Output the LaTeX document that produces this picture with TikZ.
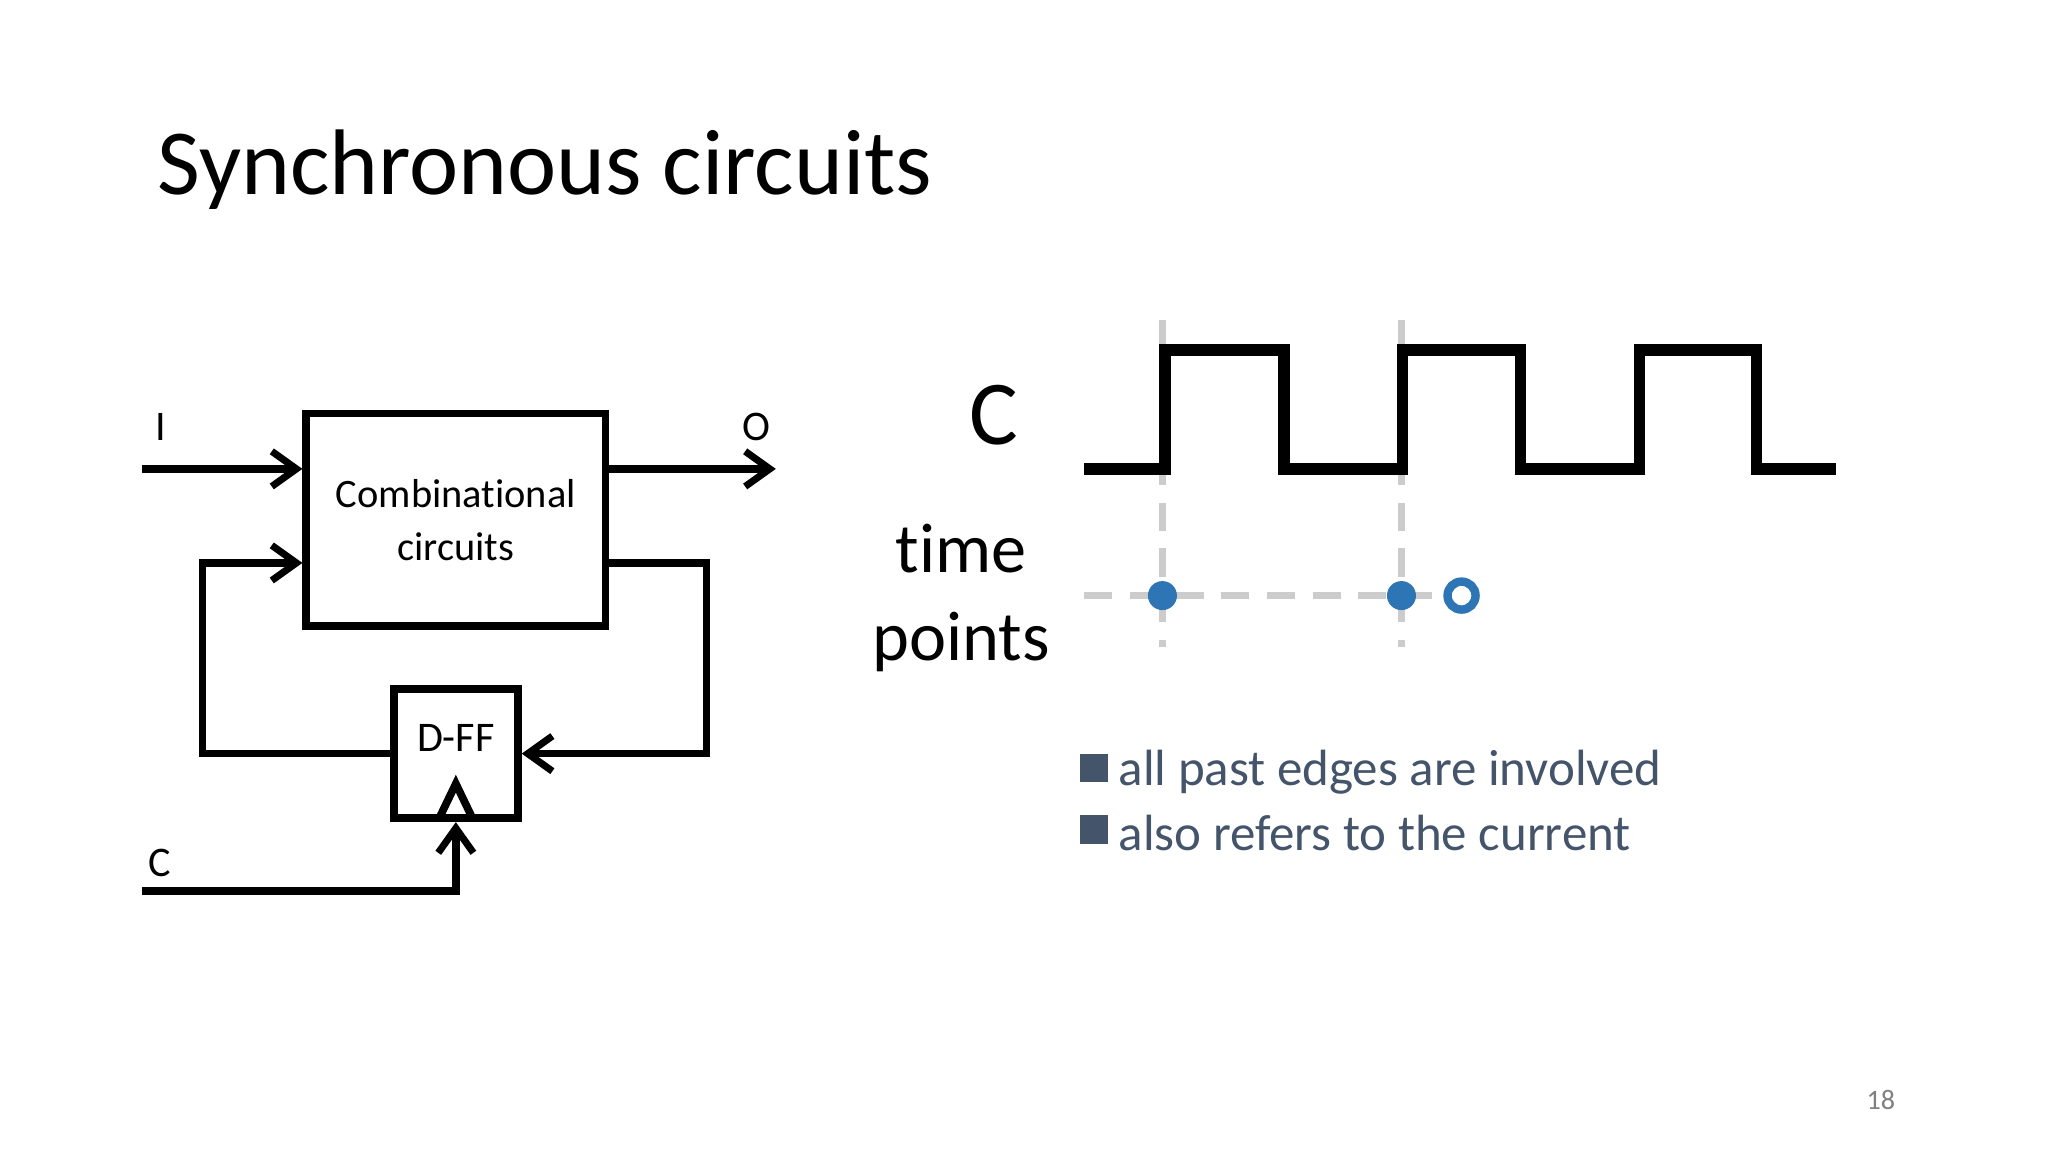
\documentclass[tikz,border=0pt]{standalone}
\usepackage{fontspec}
\setmainfont{Carlito}[Ligatures={NoCommon}]
\usetikzlibrary{arrows.meta}
\definecolor{bul}{HTML}{44546A}
\definecolor{dot}{HTML}{2E75B6}
\begin{document}
\begin{tikzpicture}[x=0.01306cm,y=-0.01306cm,
  wire/.style={line width=2.2pt},
  arr/.style={wire,-{Straight Barb[length=7pt,width=10pt,line width=2pt]}},
  clk/.style={line width=3.2pt,line join=miter},
  guide/.style={line width=2.2pt,draw=gray!40,dash pattern=on 8pt off 5pt},
  lbl/.style={font=\fontsize{12}{14}\selectfont}]
\useasboundingbox (0,0) rectangle (1568,882);
\fill[white] (0,0) rectangle (1568,882);
\node[anchor=west,inner sep=0pt,font=\fontsize{26.5}{30}\selectfont] (title) at (120,130) {Synchronous circuits};
% left circuit
\node[draw,wire,minimum width=229*0.01306cm,minimum height=163*0.01306cm,align=center,font=\fontsize{11.5}{15}\selectfont] (comb) at (349,398) {Combinational\\circuits};
\node[draw,wire,minimum width=95*0.01306cm,minimum height=99*0.01306cm] (dff) at (349,577) {};
\node[font=\fontsize{12}{14}\selectfont] (dffl) at (349,565) {D-FF};
\coordinate (tri1) at (336,627); \coordinate (tri2) at (362,627); \coordinate (tri3) at (349,600);
\draw[wire] (tri1) -- (tri3) -- (tri2);
\coordinate (iin) at (109,359);
\coordinate (oout) at (594,359);
\draw[arr] (iin) -- (comb.west |- iin);
\draw[arr] (comb.east |- oout) -- (oout);
\node[lbl] (il) at (123,327) {I};
\node[lbl] (ol) at (579,327) {O};
\coordinate (fb1) at (466,431); \coordinate (fb2) at (541,431); \coordinate (fb3) at (541,577);
\draw[arr] (fb1) -- (fb2) -- (fb3) -- (dff.east |- fb3);
\coordinate (lb1) at (300,577); \coordinate (lb2) at (155,577); \coordinate (lb3) at (155,431);
\draw[arr] (lb1) -- (lb2) -- (lb3) -- (comb.west |- lb3);
\coordinate (c1) at (109,682); \coordinate (c2) at (349,682);
\draw[arr] (c1) -- (c2) -- (dff.south);
\node[lbl] (cl) at (122,661) {C};
% clock
\node[font=\fontsize{26}{30}\selectfont] (C) at (761,318) {C};
\node[align=center,font=\fontsize{20}{25}\selectfont] (tp) at (736,458) {time\\points};
\coordinate (g1t) at (890,245); \coordinate (g1b) at (890,495);
\coordinate (g2t) at (1073,245); \coordinate (g2b) at (1073,495);
\coordinate (hl) at (830,456); \coordinate (hr) at (1118,456);
\draw[guide] (g1t) -- (g1b);
\draw[guide] (g2t) -- (g2b);
\draw[guide] (hl) -- (hr);
\draw[clk] (830,359) -- (892,359) -- (892,268) -- (983,268) -- (983,359) -- (1074,359) -- (1074,268) -- (1164,268) -- (1164,359) -- (1255,359) -- (1255,268) -- (1345,268) -- (1345,359) -- (1406,359);
\node[circle,fill=dot,inner sep=0pt,minimum size=0.29cm] (p1) at (890,456) {};
\node[circle,fill=dot,inner sep=0pt,minimum size=0.29cm] (p2) at (1073,456) {};
\node[circle,draw=dot,fill=white,line width=2.4pt,inner sep=0pt,minimum size=0.28cm] (p3) at (1119,456) {};
% bullets
\fill[bul] (827,577) rectangle (848,599);
\fill[bul] (827,624) rectangle (848,646);
\node[anchor=west,text=bul,inner sep=0pt,font=\fontsize{14.5}{18}\selectfont] (b1) at (856,591) {all past edges are involved};
\node[anchor=west,text=bul,inner sep=0pt,font=\fontsize{14.5}{18}\selectfont] (b2) at (856,638) {also refers to the current};
\node[text=gray,font=\fontsize{8}{10}\selectfont] (pg) at (1440,842) {18};
\end{tikzpicture}
\end{document}
